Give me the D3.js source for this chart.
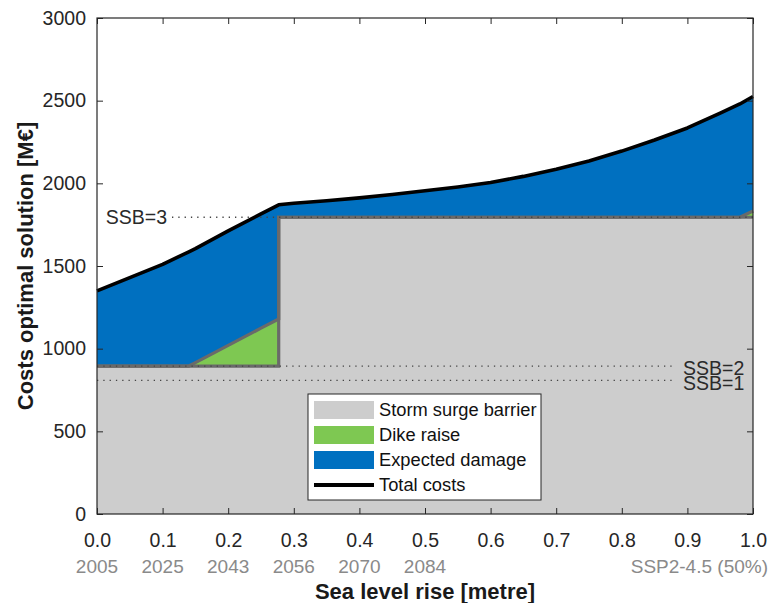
<!DOCTYPE html>
<html><head><meta charset="utf-8">
<script src="https://cdn.jsdelivr.net/npm/d3@7"></script>
<style>
body{margin:0;background:#fff;}
text{font-family:"Liberation Sans",Arial,sans-serif;}
</style></head>
<body><svg id="c" width="770" height="603"></svg>
<script>
// Sea level rise [m] (duplicate x marks the step in the optimal solution)
const slr   = [0, 0.05, 0.1, 0.14, 0.15, 0.2, 0.25, 0.277, 0.277, 0.3, 0.35, 0.4, 0.45, 0.5, 0.55, 0.6, 0.65, 0.7, 0.75, 0.8, 0.85, 0.9, 0.95, 0.98, 1.0];
const ssbCost  = [895, 895, 895, 895, 895, 895, 895, 895, 1795, 1795, 1795, 1795, 1795, 1795, 1795, 1795, 1795, 1795, 1795, 1795, 1795, 1795, 1795, 1795, 1795];
const dikeCost = [0, 0, 0, 0, 21, 125, 229, 285, 0, 0, 0, 0, 0, 0, 0, 0, 0, 0, 0, 0, 0, 0, 0, 0, 38];
const totalCost = [1350, 1430, 1510, 1586, 1605, 1712, 1815, 1870, 1870, 1880, 1895, 1912, 1932, 1955, 1978, 2005, 2042, 2085, 2135, 2195, 2262, 2335, 2425, 2480, 2525];
const xTicks = [0, 0.1, 0.2, 0.3, 0.4, 0.5, 0.6, 0.7, 0.8, 0.9, 1.0];
const yTicks = [0, 500, 1000, 1500, 2000, 2500, 3000];
const yearTicks = [0, 0.1, 0.2, 0.3, 0.4, 0.5];
const yearLabels = ["2005", "2025", "2043", "2056", "2070", "2084"];
const scenarioLabel = "SSP2-4.5 (50%)";
const ssbLevels = [{name: "SSB=1", v: 808}, {name: "SSB=2", v: 895}, {name: "SSB=3", v: 1795}];
const legendItems = ["Storm surge barrier", "Dike raise", "Expected damage", "Total costs"];

const W = 770, H = 603, m = {l: 97, r: 17, t: 18, b: 89};
const svg = d3.select("#c");
const x = d3.scaleLinear().domain([0, 1]).range([m.l, W - m.r]);
const y = d3.scaleLinear().domain([0, 3000]).range([H - m.b, m.t]);

const data = slr.map((s, i) => ({s, ssb: ssbCost[i], dike: ssbCost[i] + dikeCost[i], tot: totalCost[i]}));

const colGray = "#cdcdcd", colGreen = "#7ec852", colBlue = "#0070c0", colEdge = "#6a6a6a";

svg.append("path").datum(data)
  .attr("d", d3.area().x(d => x(d.s)).y0(d => y(d.dike)).y1(d => y(d.tot)))
  .attr("fill", colBlue);
svg.append("path").datum(data)
  .attr("d", d3.area().x(d => x(d.s)).y0(d => y(d.ssb)).y1(d => y(d.dike)))
  .attr("fill", colGreen);
svg.append("path").datum(data)
  .attr("d", d3.area().x(d => x(d.s)).y0(y(0)).y1(d => y(d.ssb)))
  .attr("fill", colGray);
svg.append("path").datum(data)
  .attr("d", d3.line().x(d => x(d.s)).y(d => y(d.dike)))
  .attr("fill", "none").attr("stroke", colEdge).attr("stroke-width", 3.2);
svg.append("path").datum(data)
  .attr("d", d3.line().x(d => x(d.s)).y(d => y(d.ssb)))
  .attr("fill", "none").attr("stroke", colEdge).attr("stroke-width", 3.2);

// SSB reference lines (dotted)
ssbLevels.forEach(l => {
  const x0 = l.name === "SSB=3" ? 172 : x(0);
  const x1 = l.name === "SSB=3" ? x(1) : 675;
  svg.append("line").attr("x1", x0).attr("x2", x1).attr("y1", y(l.v)).attr("y2", y(l.v))
    .attr("stroke", "#444").attr("stroke-width", 1.3).attr("stroke-dasharray", "1.3,5");
});
svg.append("text").attr("x", 167).attr("y", y(1795)).attr("dy", "0.35em")
  .attr("text-anchor", "end").attr("font-size", 19.5).attr("fill", "#2a2a2a").text("SSB=3");
svg.append("text").attr("x", 683).attr("y", y(895) + 2).attr("dy", "0.35em")
  .attr("font-size", 19.5).attr("fill", "#2a2a2a").text("SSB=2");
svg.append("text").attr("x", 683).attr("y", y(808) + 3).attr("dy", "0.35em")
  .attr("font-size", 19.5).attr("fill", "#2a2a2a").text("SSB=1");

// Total costs line
svg.append("path").datum(data)
  .attr("d", d3.line().x(d => x(d.s)).y(d => y(d.tot)))
  .attr("fill", "none").attr("stroke", "#000").attr("stroke-width", 3.6).attr("stroke-linejoin", "round");

// Axes (MATLAB-like box, inward ticks)
const tl = 6;
const ax = svg.append("g");
function styleAxis(g){ g.select(".domain").remove(); g.selectAll("line").attr("stroke", "#262626"); g.selectAll("text").attr("fill", "#262626").attr("font-family", "Liberation Sans, Arial, sans-serif").attr("font-size", 19.5); }
ax.append("g").attr("transform", `translate(0,${y(0)})`)
  .call(d3.axisBottom(x).tickValues(xTicks).tickFormat(d3.format(".1f")).tickSizeInner(-tl).tickSizeOuter(0).tickPadding(19))
  .call(styleAxis);
ax.append("g").attr("transform", `translate(0,${y(3000)})`)
  .call(d3.axisTop(x).tickValues(xTicks).tickFormat("").tickSizeInner(-tl).tickSizeOuter(0))
  .call(styleAxis);
ax.append("g").attr("transform", `translate(${x(0)},0)`)
  .call(d3.axisLeft(y).tickValues(yTicks).tickFormat(d3.format("d")).tickSizeInner(-tl).tickSizeOuter(0).tickPadding(11))
  .call(styleAxis);
ax.append("g").attr("transform", `translate(${x(1)},0)`)
  .call(d3.axisRight(y).tickValues(yTicks).tickFormat("").tickSizeInner(-tl).tickSizeOuter(0))
  .call(styleAxis);
svg.append("rect").attr("x", x(0)).attr("y", y(3000)).attr("width", x(1) - x(0)).attr("height", y(0) - y(3000))
  .attr("fill", "none").attr("stroke", "#262626").attr("stroke-width", 1.2);

// Year labels
svg.selectAll("text.yr").data(yearTicks).enter().append("text")
  .attr("class", "yr").attr("x", d => x(d)).attr("y", 566).attr("dy", "0.35em")
  .attr("text-anchor", "middle").attr("font-size", 19).attr("fill", "#8a8a8a")
  .text((d, i) => yearLabels[i]);
svg.append("text").attr("x", 768).attr("y", 566).attr("dy", "0.35em")
  .attr("text-anchor", "end").attr("font-size", 19).attr("fill", "#8a8a8a").text(scenarioLabel);

// Axis titles
svg.append("text").attr("x", (x(0) + x(1)) / 2).attr("y", 591).attr("dy", "0.35em")
  .attr("text-anchor", "middle").attr("font-size", 22).attr("font-weight", "bold").attr("fill", "#1a1a1a")
  .text("Sea level rise [metre]");
svg.append("text").attr("transform", `translate(25,${(y(0) + y(3000)) / 2}) rotate(-90)`).attr("dy", "0.35em")
  .attr("text-anchor", "middle").attr("font-size", 22).attr("font-weight", "bold").attr("fill", "#1a1a1a")
  .text("Costs optimal solution [M€]");

// Legend
const lg = svg.append("g");
lg.append("rect").attr("x", 308).attr("y", 394).attr("width", 233).attr("height", 106)
  .attr("fill", "#fff").attr("stroke", "#262626").attr("stroke-width", 1);
const lgCols = [colGray, colGreen, colBlue, "#000"];
legendItems.forEach((t, i) => {
  const cy = 410 + i * 25;
  if (i < 3) lg.append("rect").attr("x", 314).attr("y", cy - 9).attr("width", 60).attr("height", 18).attr("fill", lgCols[i]);
  else lg.append("line").attr("x1", 314).attr("x2", 374).attr("y1", cy).attr("y2", cy).attr("stroke", "#000").attr("stroke-width", 4);
  lg.append("text").attr("x", 379).attr("y", cy).attr("dy", "0.35em").attr("font-size", 18.3).attr("fill", "#111").text(t);
});
</script></body></html>
